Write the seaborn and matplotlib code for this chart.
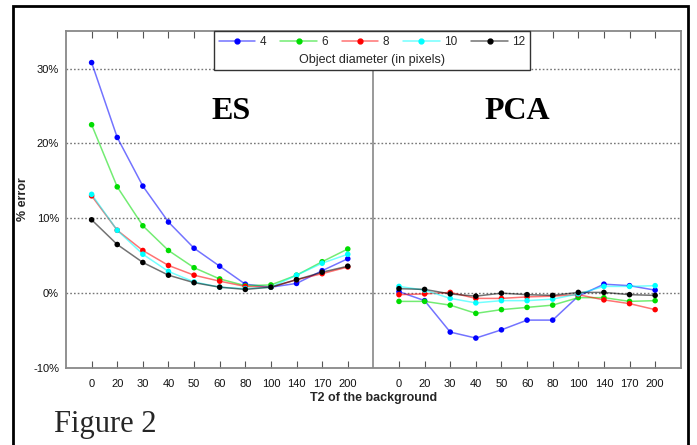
import pandas as pd
import seaborn as sns
import matplotlib.pyplot as plt
from matplotlib.lines import Line2D
from matplotlib.patches import Rectangle

# T2 of the background (x categories, same for both panels)
t2_labels = ["0", "20", "30", "40", "50", "60", "80", "100", "140", "170", "200"]
diameters = ["4", "6", "8", "10", "12"]

# % error, ES method
es_4 = [30.8, 20.8, 14.3, 9.5, 6.0, 3.6, 1.2, 0.8, 1.3, 3.0, 4.6]
es_6 = [22.5, 14.2, 9.0, 5.7, 3.4, 1.9, 1.0, 1.1, 2.4, 4.2, 5.9]
es_8 = [13.0, 8.4, 5.7, 3.7, 2.4, 1.6, 0.9, 0.8, 1.8, 2.6, 3.5]
es_10 = [13.2, 8.4, 5.2, 2.9, 1.5, 0.8, 0.6, 0.8, 2.4, 4.0, 5.2]
es_12 = [9.8, 6.5, 4.1, 2.4, 1.4, 0.8, 0.5, 0.8, 1.8, 2.8, 3.6]

# % error, PCA method
pca_4 = [0.2, -1.0, -5.2, -6.0, -4.9, -3.6, -3.6, -0.4, 1.2, 1.0, 0.4]
pca_6 = [-1.1, -1.1, -1.6, -2.7, -2.2, -1.9, -1.6, -0.6, -0.6, -1.1, -1.0]
pca_8 = [-0.2, -0.1, 0.1, -0.7, -0.7, -0.5, -0.4, -0.2, -0.9, -1.4, -2.2]
pca_10 = [0.9, 0.4, -0.7, -1.3, -1.0, -1.0, -0.8, -0.1, 0.9, 0.9, 1.0]
pca_12 = [0.6, 0.5, -0.1, -0.4, 0.0, -0.2, -0.3, 0.1, 0.1, -0.2, -0.3]

colors = ["#0000ff", "#00dd00", "#ff0000", "#00ffff", "#000000"]

es_vals = [es_4, es_6, es_8, es_10, es_12]
pca_vals = [pca_4, pca_6, pca_8, pca_10, pca_12]

rows = []
for method, vals, offset in [("ES", es_vals, 1), ("PCA", pca_vals, 13)]:
    for d, series in zip(diameters, vals):
        for i, v in enumerate(series):
            rows.append({"method": method, "diameter": d, "pos": offset + i, "err": v})
df = pd.DataFrame(rows)

sns.set_style("white")
plt.rcParams["font.family"] = ["Liberation Sans", "DejaVu Sans"]

fig = plt.figure(figsize=(6.97, 4.45), dpi=100)
ax = fig.add_axes([0.0947, 0.173, 0.882, 0.757])

pal = dict(zip(diameters, colors))
sns.lineplot(data=df, x="pos", y="err", hue="diameter", units="method",
             estimator=None, palette=pal, hue_order=diameters, alpha=0.55,
             linewidth=1.1, legend=False, ax=ax)
sns.scatterplot(data=df, x="pos", y="err", hue="diameter", palette=pal,
                hue_order=diameters, s=16, edgecolor="none", legend=False,
                ax=ax, zorder=3)

ax.set_xlim(0, 24)
ax.set_ylim(-10, 35)
ax.axvline(12, color="#888888", lw=1.2)

ax.set_yticks([-10, 0, 10, 20, 30])
ax.set_yticklabels(["-10%", "0%", "10%", "20%", "30%"])
for yv in [0, 10, 20, 30]:
    ax.axhline(yv, color="#777777", lw=1.0, ls=(0, (1.2, 1.5)), zorder=0)

xpos = list(range(1, 12)) + list(range(13, 24))
ax.set_xticks(xpos)
ax.set_xticklabels(t2_labels + t2_labels)
ax.tick_params(axis="x", direction="in", length=5, top=True, bottom=True,
               labelsize=8, pad=8, color="#555555")
ax.tick_params(axis="y", length=0, labelsize=8, pad=5)
for lab in ax.get_xticklabels() + ax.get_yticklabels():
    lab.set_color("#111111")

for sp in ax.spines.values():
    sp.set_color("#888888")
    sp.set_linewidth(1.3)

ax.set_xlabel("T2 of the background", fontsize=9, fontweight="bold", labelpad=2)
ax.set_ylabel("% error", fontsize=9, fontweight="bold", labelpad=3)

ax.text(6.44, 24.3, "ES", fontsize=23, fontweight="bold", ha="center",
        va="center", family="Liberation Serif", color="black")
ax.text(17.6, 24.3, "PCA", fontsize=23, fontweight="bold", ha="center",
        va="center", family="Liberation Serif", color="black")

handles = [Line2D([], [], color=c, alpha=0.55, lw=1.1) for c in colors]
handles = [(h, Line2D([], [], color=c, marker="o", ms=3.5, ls="none"))
           for h, c in zip(handles, colors)]
leg = ax.legend(handles, diameters, ncol=5, loc="upper center",
                bbox_to_anchor=(0.4976, 1.0), title="Object diameter (in pixels)",
                fontsize=8.5, title_fontsize=9, frameon=True, fancybox=False,
                edgecolor="#333333", framealpha=1, handlelength=3.1,
                columnspacing=1.2, handletextpad=0.35, borderpad=0.4,
                borderaxespad=0)
leg.get_frame().set_linewidth(1.0)
# put the title under the entries, as in the original figure
leg._legend_box._children.reverse()

fig.text(0.078, 0.03, "Figure 2", fontsize=22, family="Liberation Serif")

fig.patches.append(Rectangle((0.0187, -0.02), 0.968, 1.0065, transform=fig.transFigure,
                             fill=False, edgecolor="black", lw=2))

fig.savefig("out.png", dpi=100)
